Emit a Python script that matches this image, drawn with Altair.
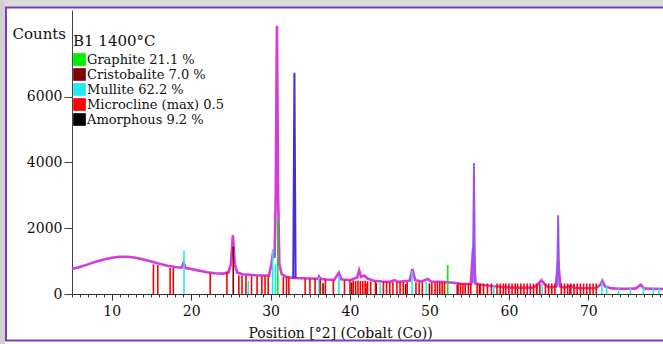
import altair as alt
import pandas as pd

# ---- measured profile (2theta, counts) ----
prof_x = [5.0, 6.0, 7.0, 8.0, 9.0, 10.0, 11.0, 12.0, 13.0, 14.0, 15.0, 16.0, 17.0, 18.0, 18.8,
          19.05, 19.3, 20.0, 21.0, 22.0, 23.0, 24.0, 24.7, 25.0, 25.25, 25.5, 25.8, 26.5, 27.0,
          28.0, 29.0, 29.8, 30.1, 30.3, 30.5, 30.65, 30.8, 30.95, 31.1, 31.4, 32.0, 32.5, 33.5,
          34.0, 35.0, 36.0, 36.1, 36.3, 37.0, 38.0, 38.6, 38.9, 40.0, 40.9, 41.15, 41.4, 41.8,
          42.2, 43.0, 44.0, 45.0, 45.6, 46.0, 47.5, 47.85, 48.2, 49.0, 49.8, 50.2, 51.0, 52.0,
          53.0, 54.0, 55.2, 55.5, 55.8, 56.5, 57.5, 59.0, 60.0, 61.0, 62.0, 63.0, 63.5, 64.1,
          64.5, 65.0, 65.9, 66.2, 66.5, 67.0, 67.8, 68.2, 69.0, 70.0, 71.0, 71.5, 71.75, 72.1,
          73.0, 74.0, 75.0, 76.0, 76.6, 77.0, 78.0, 79.4]
prof_y = [760, 820, 900, 980, 1050, 1100, 1130, 1130, 1100, 1050, 990, 920, 860, 820, 800,
          950, 790, 760, 710, 660, 630, 620, 650, 900, 1790, 900, 650, 600, 590,
          570, 560, 560, 900, 1250, 1100, 3000, 8150, 3000, 900, 600, 520, 500, 480,
          480, 470, 460, 530, 460, 440, 430, 650, 450, 420, 500, 720, 520, 560,
          470, 400, 380, 370, 420, 370, 400, 760, 420, 380, 455, 380, 370, 360,
          340, 310, 300, 1400, 320, 280, 250, 220, 200, 190, 190, 200, 260, 420,
          300, 200, 220, 1000, 220, 190, 260, 190, 180, 175, 180, 280, 400, 230,
          170, 160, 160, 170, 280, 170, 160, 150]

# ---- silicon spikes ----
si33_x = [32.85, 33.0, 33.15]
si33_y = [480, 6720, 480]
si_id = ["55.6", "55.6", "55.6", "66.2", "66.2", "66.2"]
si_x = [55.45, 55.6, 55.75, 66.05, 66.2, 66.35]
si_y = [320, 3980, 320, 220, 2390, 220]

# ---- phases / legend ----
phases = ["Graphite 21.1 %", "Cristobalite 7.0 %", "Mullite 62.2 %",
          "Microcline (max) 0.5", "Amorphous 9.2 %"]
phase_colors = ["#00ee00", "#800000", "#22e8f0", "#ff0000", "#000000"]

graphite_x = [30.9, 52.3]
graphite_h = [2300, 880]
cristobalite_x = [25.3, 36.6, 40.2, 42.0, 43.3, 47.0, 50.0, 53.5, 56.3, 63.5, 67.7]
cristobalite_h = [1440, 330, 350, 320, 330, 300, 320, 280, 280, 260, 250]
mullite_x = [19.1, 27.2, 30.25, 30.6, 36.1, 38.6, 43.8, 47.8, 49.6, 58.1, 64.2,
             71.7, 72.3, 73.8, 75.3, 76.95, 78.2, 78.9]
mullite_h = [1316, 400, 1370, 900, 500, 550, 350, 700, 380, 280, 300,
             380, 250, 200, 200, 230, 200, 200]
microcline_x = [15.25, 15.8, 17.35, 17.75, 22.4, 24.5, 26.0, 26.4, 26.9, 27.6, 28.3, 28.9,
                29.3, 29.7, 31.6, 32.0, 32.3, 34.35, 34.95, 35.6, 36.25, 36.9, 37.9, 39.3,
                40.0, 40.4, 40.7, 41.0, 41.3, 41.6, 41.9, 42.2, 42.6, 43.2, 44.2, 44.6, 45.0,
                45.4, 45.9, 46.3, 46.7, 47.2, 48.3, 48.7, 49.1, 50.3, 50.7, 51.0, 51.3, 51.6,
                51.9, 53.6, 53.9, 54.2, 54.5, 54.9, 55.2, 56.0, 56.4, 56.8, 57.3, 57.8, 58.5,
                58.9, 59.3, 59.6, 60.0, 60.4, 60.8, 61.1, 61.5, 61.9, 62.3, 62.7, 63.1, 63.5,
                63.9, 64.6, 65.0, 65.4, 65.8, 66.6, 67.0, 67.4, 67.8, 68.2, 68.6, 69.0, 69.4,
                69.8, 70.2, 70.6, 71.0]
microcline_h = [900, 880, 790, 790, 640, 680, 560, 560, 550, 540, 540, 540,
                540, 550, 520, 520, 500, 470, 460, 460, 450, 440, 430, 420,
                420, 410, 400, 410, 400, 400, 400, 390, 380, 380, 370, 370, 360,
                360, 360, 360, 360, 360, 360, 360, 360, 350, 350, 350, 350, 350,
                350, 330, 330, 330, 330, 330, 330, 320, 320, 320, 320, 320, 320,
                320, 320, 320, 320, 320, 320, 320, 320, 320, 320, 320, 320, 320,
                320, 320, 320, 320, 320, 320, 320, 320, 320, 320, 320, 320, 320,
                320, 320, 320, 320]

# ---- tables ----
profile = pd.DataFrame({"x": prof_x, "y": prof_y})
si33 = pd.DataFrame({"x": si33_x, "y": si33_y})
si_other = pd.DataFrame({"id": si_id, "x": si_x, "y": si_y})
rows = []
for name, xs, hs in [(phases[0], graphite_x, graphite_h),
                     (phases[1], cristobalite_x, cristobalite_h),
                     (phases[2], mullite_x, mullite_h),
                     (phases[3], microcline_x, microcline_h)]:
    for xv, hv in zip(xs, hs):
        rows.append({"phase": name, "x": xv, "y": hv, "y0": 0})
sticks = pd.DataFrame(rows)
legend_rows = pd.DataFrame({"phase": phases, "x": [None] * len(phases),
                            "y": [None] * len(phases)})
frame = pd.DataFrame({"k": [0]})

FONT = "DejaVu Serif"
W, H = 591, 284
xscale = alt.Scale(domain=[5, 79.4], nice=False, zero=False)
yscale = alt.Scale(domain=[0, 8630], nice=False)
cscale = alt.Scale(domain=phases, range=phase_colors)
yaxis = alt.Axis(values=[0, 2000, 4000, 6000], format="d", title="Counts", titleAngle=0,
                 titleAlign="left", titleBaseline="alphabetic", titleX=-60, titleY=28,
                 titleFontSize=15, titleFontWeight="normal", titleColor="#111",
                 labelFontSize=14, labelColor="#111", labelPadding=2, tickSize=8,
                 grid=False, domainColor="#444", tickColor="#444")
Y = alt.Y("y:Q", scale=yscale, axis=yaxis)
legend = alt.Legend(title="B1 1400°C", orient="none", legendX=1, legendY=24,
                    symbolType="square", symbolSize=160, symbolStrokeWidth=0,
                    symbolOpacity=1, labelFont=FONT, labelFontSize=13, labelColor="#111",
                    labelOffset=1, rowPadding=1, titleFont=FONT, titleFontSize=15,
                    titleFontWeight="normal", titleColor="#111", titlePadding=4,
                    padding=0, labelLimit=300)

major_axis = alt.Axis(values=[10, 20, 30, 40, 50, 60, 70], format="d", orient="bottom",
                      title="Position [°2] (Cobalt (Co))", titleFontSize=14,
                      titleFontWeight="normal", titleColor="#111", titleX=268,
                      titleY=39, titleBaseline="middle", titleAlign="center",
                      labelFontSize=14, labelColor="#111", labelPadding=4, tickSize=6,
                      grid=False, domainColor="#333", tickColor="#333")
minor_axis = alt.Axis(values=list(range(5, 80)), orient="bottom", labels=False,
                      title=None, tickSize=3, domain=False, grid=False, tickColor="#333")

legend_layer = alt.Chart(legend_rows).mark_square(filled=True, size=160).encode(
    x=alt.X("x:Q", scale=xscale, axis=None),
    y=Y,
    color=alt.Color("phase:N", scale=cscale, legend=legend),
)

stick_layer = alt.Chart(sticks).mark_rule(strokeWidth=1.6).encode(
    x=alt.X("x:Q", scale=xscale, axis=major_axis),
    y=Y, y2="y0:Q",
    color=alt.Color("phase:N", scale=cscale, legend=legend),
)

profile_layer = alt.Chart(profile).mark_line(strokeWidth=2.6, color="#d63ad8").encode(
    x=alt.X("x:Q", scale=xscale, axis=minor_axis),
    y=Y,
)

si33_layer = alt.Chart(si33).mark_line(strokeWidth=2, color="#4a2cd6").encode(
    x=alt.X("x:Q", scale=xscale, axis=None),
    y=Y,
)
si_layer = alt.Chart(si_other).mark_line(strokeWidth=1.8, color="#9a50f5").encode(
    x=alt.X("x:Q", scale=xscale, axis=None),
    y=Y,
    detail="id:N",
)

# window frame decoration (outside the plot area)
top_band = alt.Chart(frame).mark_rect(color="#dcdcdc").encode(
    x=alt.value(-72), x2=alt.value(W), y=alt.value(-10), y2=alt.value(-2))
top_line = alt.Chart(frame).mark_rule(color="#7b3cc4", strokeWidth=2).encode(
    x=alt.value(-67), x2=alt.value(W), y=alt.value(-2.5))
left_shadow = alt.Chart(frame).mark_rect(color="#d0d0d0").encode(
    x=alt.value(-72), x2=alt.value(-67), y=alt.value(-10), y2=alt.value(334))
left_line = alt.Chart(frame).mark_rule(color="#7b3cc4", strokeWidth=2).encode(
    x=alt.value(-66), y=alt.value(-3), y2=alt.value(331))
bottom_line = alt.Chart(frame).mark_rule(color="#7b3cc4", strokeWidth=2).encode(
    x=alt.value(-67), x2=alt.value(W), y=alt.value(330.5))

chart = alt.layer(legend_layer, profile_layer, stick_layer, si_layer, si33_layer,
                  top_band, top_line, left_shadow, left_line, bottom_line).resolve_axis(
    x="independent"
).properties(
    width=W, height=H,
    autosize=alt.AutoSizeParams(type="none"),
    padding={"left": 72, "top": 10, "right": 0, "bottom": 50},
    background="white",
).configure(font=FONT).configure_view(stroke=None)

chart.save("out.html", embed_options={"renderer": "svg", "actions": False})
